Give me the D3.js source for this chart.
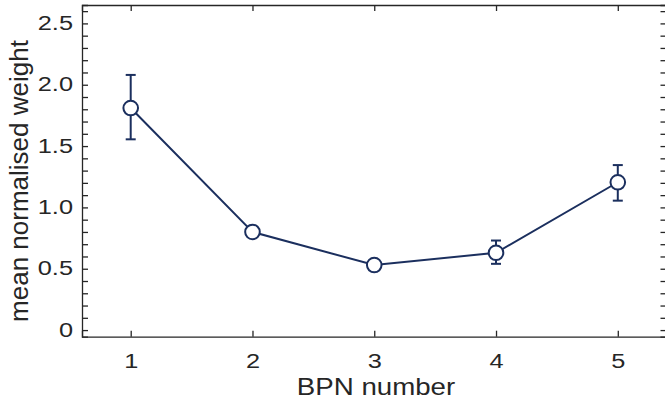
<!DOCTYPE html>
<html>
<head>
<meta charset="utf-8">
<script src="https://cdn.jsdelivr.net/npm/d3@7"></script>
<style>
  body { margin: 0; background: #fff; }
  text { font-family: "Liberation Sans", Arial, sans-serif; fill: #262626; }
</style>
</head>
<body>
<svg id="chart" width="665" height="410"></svg>
<script>
// BPN number vs mean normalised weight (mean +/- error)
var bpn    = [1, 2, 3, 4, 5]
var mean   = [1.81, 0.80, 0.53, 0.63, 1.205]
var errLo  = [1.555, 0.765, 0.51, 0.54, 1.055]
var errHi  = [2.08, 0.84, 0.55, 0.73, 1.345]
var yTicks = [0, 0.5, 1.0, 1.5, 2.0, 2.5]
var yTickLabels = ["0", "0.5", "1.0", "1.5", "2.0", "2.5"]

var svg = d3.select("#chart")
var navy = "#1b2f5e"
var ink = "#262626"
// the reference digits are wider than Liberation Sans, stretch them
var sx = 1.3

// plot box (note: "top" is a reserved global in browsers)
var pLeft = 82, pRight = 666.5, pTop = 5, pBottom = 336.7

var x = d3.scaleLinear().domain([0.6, 5.4]).range([pLeft, pRight])
var y = d3.scaleLinear().domain([-0.054, 2.65]).range([pBottom, pTop])

var minor = d3.range(0, 27).map(function(i) { return i / 10 })

function styleAxis(g) {
  g.select(".domain").attr("stroke", ink).attr("stroke-width", 1.3)
  g.selectAll(".tick line").attr("stroke", ink).attr("stroke-width", 1.3)
  g.selectAll("text").attr("font-size", 19.5)
    .attr("font-family", "Liberation Sans, Arial, sans-serif").attr("fill", ink)
}

// bottom axis: ticks point inward
svg.append("g")
  .attr("transform", "translate(0," + pBottom + ")")
  .call(d3.axisBottom(x).tickValues(bpn).tickSize(-6).tickPadding(17)
    .tickFormat(d3.format("d")))
  .call(styleAxis)
  .call(function(g) { g.selectAll("text").attr("transform", "scale(" + sx + ",1)") })

// top axis (frame line + ticks)
svg.append("g")
  .attr("transform", "translate(0," + pTop + ")")
  .call(d3.axisTop(x).tickValues(bpn).tickSize(-6).tickFormat(""))
  .call(styleAxis)

// left axis: minor ticks every 0.1, labels at majors
svg.append("g")
  .attr("transform", "translate(" + pLeft + ",0)")
  .call(d3.axisLeft(y).tickValues(minor).tickSize(-6).tickFormat(""))
  .call(styleAxis)
svg.append("g")
  .attr("transform", "translate(" + pLeft + ",0)")
  .call(d3.axisLeft(y).tickValues(yTicks).tickSize(0)
    .tickFormat(function(d, i) { return yTickLabels[i] }))
  .call(styleAxis)
  .call(function(g) {
    g.select(".domain").remove()
    g.selectAll("text").attr("x", -9 / sx).attr("transform", "scale(" + sx + ",1)")
  })

// right axis ticks
svg.append("g")
  .attr("transform", "translate(" + pRight + ",0)")
  .call(d3.axisRight(y).tickValues(minor).tickSize(-6).tickFormat(""))
  .call(styleAxis)

// axis titles
svg.append("text")
  .attr("transform", "translate(376,395) scale(1.13,1)")
  .attr("text-anchor", "middle")
  .style("font-size", "24.5px")
  .text("BPN number")

svg.append("text")
  .attr("transform", "translate(27.5,181) rotate(-90)")
  .attr("text-anchor", "middle")
  .style("font-size", "26px")
  .text("mean normalised weight")

// data
var pts = bpn.map(function(b, i) {
  return { b: b, m: mean[i], lo: errLo[i], hi: errHi[i] }
})

var line = d3.line().x(function(d) { return x(d.b) }).y(function(d) { return y(d.m) })
svg.append("path")
  .datum(pts)
  .attr("d", line)
  .attr("fill", "none")
  .attr("stroke", navy)
  .attr("stroke-width", 2)

var eb = svg.append("g").selectAll("g").data(pts).enter().append("g")
eb.append("line")
  .attr("x1", function(d) { return x(d.b) })
  .attr("x2", function(d) { return x(d.b) })
  .attr("y1", function(d) { return y(d.lo) })
  .attr("y2", function(d) { return y(d.hi) })
  .attr("stroke", navy).attr("stroke-width", 2)
eb.append("line")
  .attr("x1", function(d) { return x(d.b) - 5 })
  .attr("x2", function(d) { return x(d.b) + 5 })
  .attr("y1", function(d) { return y(d.lo) })
  .attr("y2", function(d) { return y(d.lo) })
  .attr("stroke", navy).attr("stroke-width", 2)
eb.append("line")
  .attr("x1", function(d) { return x(d.b) - 5 })
  .attr("x2", function(d) { return x(d.b) + 5 })
  .attr("y1", function(d) { return y(d.hi) })
  .attr("y2", function(d) { return y(d.hi) })
  .attr("stroke", navy).attr("stroke-width", 2)

svg.append("g").selectAll("circle").data(pts).enter().append("circle")
  .attr("cx", function(d) { return x(d.b) })
  .attr("cy", function(d) { return y(d.m) })
  .attr("r", 7.3)
  .attr("fill", "#fff")
  .attr("stroke", navy)
  .attr("stroke-width", 2)
</script>
</body>
</html>
